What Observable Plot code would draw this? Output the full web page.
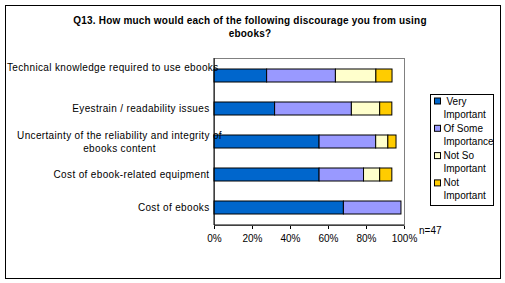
<!DOCTYPE html>
<html>
<head>
<meta charset="utf-8">
<script src="https://cdn.jsdelivr.net/npm/d3@7"></script>
<script src="https://cdn.jsdelivr.net/npm/@observablehq/plot@0.6"></script>
<style>
  html, body { margin: 0; padding: 0; background: white; }
  svg { display: block; }
  .ylab text { letter-spacing: 0.35px; }
</style>
</head>
<body>
<div id="chart"></div>
<script>
const titleLines = ["Q13. How much would each of the following discourage you from using", "ebooks?"];
const categories = [
  "Technical knowledge required to use ebooks",
  "Eyestrain / readability issues",
  "Uncertainty of the reliability and integrity of ebooks content",
  "Cost of ebook-related equipment",
  "Cost of ebooks"
];
const categoryLabels = [
  "Technical knowledge required to use ebooks",
  "Eyestrain / readability issues",
  "Uncertainty of the reliability and integrity of\nebooks content",
  "Cost of ebook-related equipment",
  "Cost of ebooks"
];
const seriesNames = ["Very Important", "Of Some Importance", "Not So Important", "Not Important"];
const veryImportant    = [27.7, 31.9, 55.3, 55.3, 68.1];
const ofSomeImportance = [36.2, 40.4, 29.8, 23.4, 30.3];
const notSoImportant   = [21.3, 14.9, 6.4, 8.5, 0];
const notImportant     = [8.5, 6.4, 4.3, 6.4, 0];
const seriesColors = ["#0066CC", "#9999FF", "#FFFFCC", "#FFCC00"];
const xTicks = [0, 20, 40, 60, 80, 100];
const sampleNote = "n=47";

const seriesValues = [veryImportant, ofSomeImportance, notSoImportant, notImportant];
const data = [];
categories.forEach((c, i) => {
  seriesNames.forEach((s, j) => {
    if (seriesValues[j][i] > 0) data.push({category: c, series: s, value: seriesValues[j][i]});
  });
});
const labelOf = c => categoryLabels[categories.indexOf(c)];

const font = "'Liberation Sans', Arial, sans-serif";

const plot = Plot.plot({
  width: 505,
  height: 283,
  marginLeft: 214,
  marginRight: 101,
  marginTop: 58,
  marginBottom: 58,
  style: {fontFamily: font, fontSize: "10px", background: "white", color: "black"},
  x: {domain: [0, 100], ticks: xTicks, tickFormat: d => d + "%", tickSize: 4, tickPadding: 5, label: null},
  y: {domain: categories, paddingInner: 0.6, paddingOuter: 0.3, axis: null},
  color: {domain: seriesNames, range: seriesColors},
  marks: [
    Plot.frame({stroke: "#808080"}),
    Plot.barX(data, Plot.stackX({x: "value", y: "category", fill: "series", stroke: "black", strokeWidth: 1, order: seriesNames})),
    Plot.text(categories, {filter: (d, i) => i === 0, y: d => d, text: labelOf, frameAnchor: "left", textAnchor: "end", dx: 4, dy: -8, fill: "black", className: "ylab"}),
    Plot.text(categories, {filter: (d, i) => i === 2, y: d => d, text: labelOf, frameAnchor: "left", textAnchor: "middle", dx: -95, dy: -1, lineHeight: 1.33, fill: "black", className: "ylab"}),
    Plot.text(categories, {filter: (d, i) => i !== 0 && i !== 2, y: d => d, text: labelOf, frameAnchor: "left", textAnchor: "end", dx: -5, fill: "black", className: "ylab"})
  ]
});

document.getElementById("chart").appendChild(plot);

const svg = d3.select(plot);
const xr = plot.scale("x").range;
const yr = plot.scale("y").range;
const x0 = Math.min(...xr), x1 = Math.max(...xr);
const y0 = Math.min(...yr), y1 = Math.max(...yr);

// black left and bottom axis lines
svg.append("line").attr("x1", x0).attr("x2", x0).attr("y1", y0).attr("y2", y1).attr("stroke", "black");
svg.append("line").attr("x1", x0).attr("x2", x1).attr("y1", y1).attr("y2", y1).attr("stroke", "black");

// outer border
svg.append("rect").attr("x", 5.5).attr("y", 5.5).attr("width", 495).attr("height", 273)
  .attr("fill", "none").attr("stroke", "black");

// title
const title = svg.append("text").attr("text-anchor", "middle").attr("font-weight", "bold")
  .attr("font-family", font).attr("font-size", 10).attr("fill", "black").style("letter-spacing", "0.2px");
titleLines.forEach((t, i) => title.append("tspan").attr("x", 250).attr("y", 23.5 + i * 13.3).text(t));

// n note
svg.append("text").attr("x", 419).attr("y", 233.5).attr("text-anchor", "start").attr("font-family", font).attr("font-size", 10)
  .attr("fill", "black").text(sampleNote);

// legend
const lg = svg.append("g").attr("text-anchor", "start");
lg.append("rect").attr("x", 430.5).attr("y", 94.5).attr("width", 63).attr("height", 111)
  .attr("fill", "white").attr("stroke", "black");
seriesNames.forEach((s, i) => {
  const words = s.split(" ");
  const l1 = words.slice(0, -1).join(" "), l2 = words[words.length - 1];
  const yy = 101 + i * 27.3;
  lg.append("rect").attr("x", 434.5).attr("y", yy - 3).attr("width", 6).attr("height", 6)
    .attr("fill", seriesColors[i]).attr("stroke", "black");
  const t = lg.append("text").attr("text-anchor", "start").attr("font-family", font).attr("font-size", 10).attr("fill", "black");
  t.append("tspan").attr("x", i === 0 ? 446.5 : 443.5).attr("y", yy + 3.5).text(l1);
  t.append("tspan").attr("x", 443.5).attr("y", yy + 16.5).text(l2);
});
</script>
</body>
</html>
